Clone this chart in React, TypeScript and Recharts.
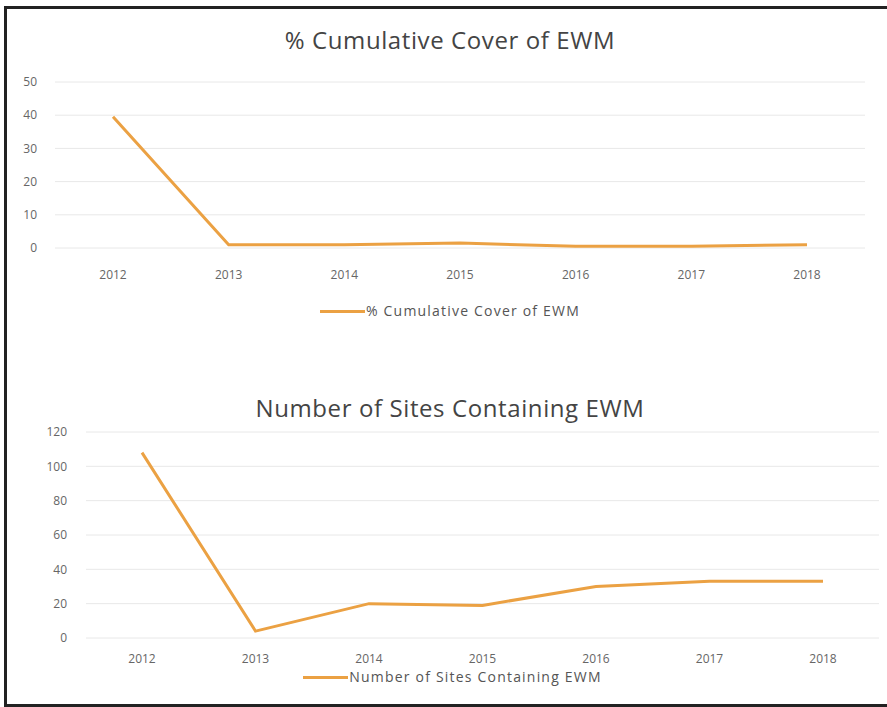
import { LineChart, Line, XAxis, YAxis, CartesianGrid, Legend } from "recharts";

const years = ["2012", "2013", "2014", "2015", "2016", "2017", "2018"];
const coverValues = [39.5, 1, 1, 1.5, 0.5, 0.5, 1];
const siteValues = [108, 4, 20, 19, 30, 33, 33];
const coverTicks = [0, 10, 20, 30, 40, 50];
const siteTicks = [0, 20, 40, 60, 80, 100, 120];

const coverData = years.map((year, i) => ({ year, cover: coverValues[i] }));
const siteData = years.map((year, i) => ({ year, sites: siteValues[i] }));

const ORANGE = "#eba143";
const FONT = "'Open Sans', sans-serif";

function LegendLine({ label }: { label: string }) {
  return (
    <div style={{ display: "flex", alignItems: "center", justifyContent: "center", fontFamily: FONT, fontSize: 14, letterSpacing: 1.2, color: "#555", lineHeight: "18px" }}>
      <span style={{ display: "inline-block", width: 45, height: 3, background: ORANGE, marginRight: 1 }} />
      <span>{label}</span>
    </div>
  );
}

export default function App() {
  const tickStyle = { fill: "#666", fontSize: 12, fontFamily: FONT };
  const titleStyle = { position: "absolute" as const, left: 0, width: 900, textAlign: "center" as const, fontFamily: FONT, fontSize: 24, letterSpacing: 0.6, color: "#444" };
  return (
    <div style={{ position: "absolute", left: 0, top: 0, width: 887, height: 707, background: "#fff", overflow: "hidden" }}>
      <div style={{ position: "absolute", left: 4, top: 6, width: 900, height: 695, borderLeft: "3px solid #222", borderTop: "3px solid #222", borderBottom: "3px solid #222" }} />

      <div style={{ ...titleStyle, top: 23 }}>% Cumulative Cover of EWM</div>
      <div style={{ position: "absolute", left: 0, top: 0 }}>
        <LineChart width={887} height={330} data={coverData} margin={{ top: 82, right: 22, left: 5, bottom: 24 }}>
          <CartesianGrid vertical={false} stroke="#e8e8e8" />
          <XAxis dataKey="year" axisLine={false} tickLine={false} padding={{ left: 58, right: 58 }} tickMargin={16} height={40} tick={tickStyle} />
          <YAxis domain={[0, 50]} ticks={coverTicks} axisLine={false} tickLine={false} width={50} tickMargin={12} tick={tickStyle} />
          <Legend verticalAlign="bottom" wrapperStyle={{ top: 302, left: 0, width: 900 }} content={() => <LegendLine label="% Cumulative Cover of EWM" />} />
          <Line type="linear" dataKey="cover" name="% Cumulative Cover of EWM" stroke={ORANGE} strokeWidth={3} dot={false} isAnimationActive={false} />
        </LineChart>
      </div>

      <div style={{ ...titleStyle, top: 391 }}>Number of Sites Containing EWM</div>
      <div style={{ position: "absolute", left: 0, top: 380 }}>
        <LineChart width={887} height={320} data={siteData} margin={{ top: 52, right: 8, left: 36, bottom: 4 }}>
          <CartesianGrid vertical={false} stroke="#e8e8e8" />
          <XAxis dataKey="year" axisLine={false} tickLine={false} padding={{ left: 56, right: 56 }} tickMargin={10} height={40} tick={tickStyle} />
          <YAxis domain={[0, 120]} ticks={siteTicks} axisLine={false} tickLine={false} width={50} tickMargin={13} tick={tickStyle} />
          <Legend verticalAlign="bottom" wrapperStyle={{ top: 288, left: 0, width: 905 }} content={() => <LegendLine label="Number of Sites Containing EWM" />} />
          <Line type="linear" dataKey="sites" name="Number of Sites Containing EWM" stroke={ORANGE} strokeWidth={3} dot={false} isAnimationActive={false} />
        </LineChart>
      </div>
    </div>
  );
}
